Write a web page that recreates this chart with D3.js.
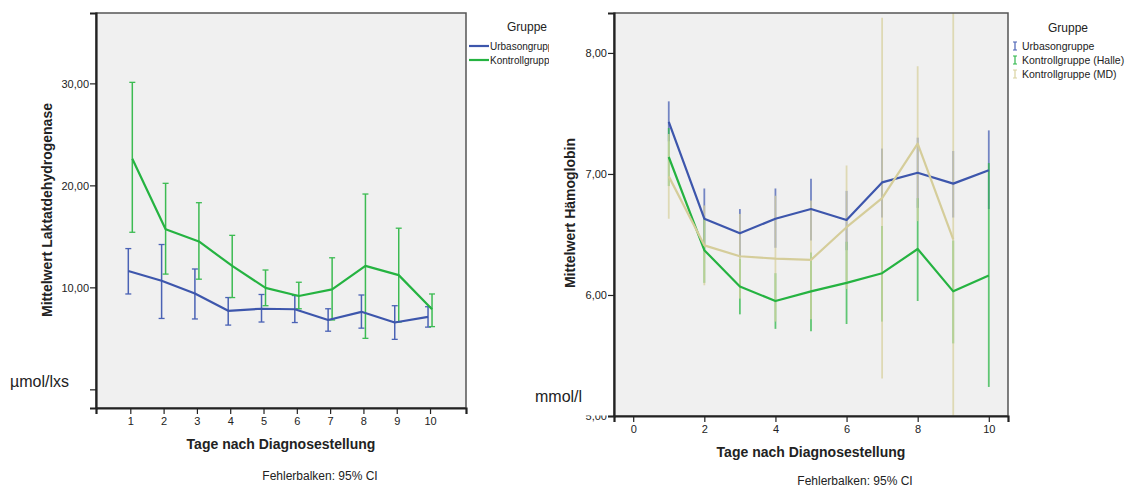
<!DOCTYPE html>
<html>
<head>
<meta charset="utf-8">
<script src="https://cdn.jsdelivr.net/npm/d3@7"></script>
<style>
  body { margin: 0; background: #fff; }
  text { font-family: "Liberation Sans", Arial, sans-serif; fill: #222; }
</style>
</head>
<body>
<svg id="chart" width="1130" height="488"></svg>
<script>
// Tage nach Diagnosestellung
const days = [1, 2, 3, 4, 5, 6, 7, 8, 9, 10]

// Laktatdehydrogenase (µmol/lxs)
const ldhUrbasonMean = [11.6, 10.65, 9.4, 7.7, 7.9, 7.85, 6.8, 7.6, 6.55, 7.1]
const ldhUrbasonLow  = [9.35, 6.95, 6.9, 6.3, 6.6, 6.55, 5.7, 6.0, 4.9, 6.1]
const ldhUrbasonHigh = [13.8, 14.2, 11.8, 9.0, 9.3, 9.2, 7.9, 9.25, 8.2, 8.1]
const ldhKontrollMean = [22.6, 15.7, 14.5, 12.1, 9.95, 9.15, 9.8, 12.1, 11.2, 7.85]
const ldhKontrollLow  = [15.4, 11.3, 10.8, 9.0, 8.2, 7.9, 6.8, 5.0, 6.6, 6.15]
const ldhKontrollHigh = [30.1, 20.2, 18.3, 15.1, 11.7, 10.5, 12.9, 19.15, 15.8, 9.35]

// Hämoglobin (mmol/l)
const hbUrbasonMean = [7.43, 6.63, 6.51, 6.63, 6.71, 6.62, 6.93, 7.01, 6.92, 7.03]
const hbUrbasonLow  = [7.27, 6.38, 6.31, 6.39, 6.45, 6.37, 6.64, 6.72, 6.64, 6.71]
const hbUrbasonHigh = [7.60, 6.88, 6.71, 6.88, 6.96, 6.86, 7.21, 7.30, 7.19, 7.36]
const hbHalleMean = [7.14, 6.37, 6.07, 5.95, 6.03, 6.10, 6.18, 6.38, 6.03, 6.16]
const hbHalleLow  = [6.90, 6.10, 5.84, 5.72, 5.70, 5.76, 5.78, 5.95, 5.60, 5.24]
const hbHalleHigh = [7.38, 6.64, 6.30, 6.18, 6.35, 6.44, 6.57, 6.80, 6.45, 7.09]
const hbMdMean = [6.98, 6.41, 6.32, 6.30, 6.29, 6.56, 6.80, 7.25, 6.46, null]
const hbMdLow  = [6.63, 6.08, 5.97, 5.78, 5.80, 6.05, 5.31, 6.61, 4.30, null]
const hbMdHigh = [7.33, 6.74, 6.67, 6.82, 6.78, 7.07, 8.29, 7.89, 8.60, null]

const ldhTicks = [0, 10, 20, 30]
const hbTicks = [5, 6, 7, 8]
const hbDayTicks = [0, 2, 4, 6, 8, 10]

const svg = d3.select('#chart')
const fmt = v => d3.format('.2f')(v).replace('.', ',')

function series(mean, low, high) {
  return days.map((d, i) => ({ day: d, mean: mean[i], low: low[i], high: high[i] }))
    .filter(p => p.mean !== null)
}

function drawPanel(opts) {
  const g = svg.append('g')
  const x = d3.scaleLinear().domain(opts.xDomain).range([opts.left, opts.right])
  const y = d3.scaleLinear().domain(opts.yDomain).range([opts.bottom, opts.top])

  // plot background
  g.append('rect')
    .attr('x', opts.left).attr('y', opts.top)
    .attr('width', opts.right - opts.left).attr('height', opts.bottom - opts.top)
    .attr('fill', '#f0f0f0')

  const clipId = opts.id + 'clip'
  g.append('clipPath').attr('id', clipId).append('rect')
    .attr('x', opts.left).attr('y', opts.top)
    .attr('width', opts.right - opts.left).attr('height', opts.bottom - opts.top)
  const plot = g.append('g').attr('clip-path', 'url(#' + clipId + ')')

  // error bars
  opts.groups.forEach(grp => {
    const dx = grp.dodge || 0
    const bars = plot.append('g').attr('opacity', grp.barOpacity || 1)
    grp.data.forEach(p => {
      const cx = x(p.day) + dx
      bars.append('line')
        .attr('x1', cx).attr('x2', cx)
        .attr('y1', y(p.low)).attr('y2', y(p.high))
        .attr('stroke', grp.barColor).attr('stroke-width', grp.barWidth)
      if (opts.caps) {
        [p.low, p.high].forEach(v => {
          bars.append('line')
            .attr('x1', cx - opts.caps).attr('x2', cx + opts.caps)
            .attr('y1', y(v)).attr('y2', y(v))
            .attr('stroke', grp.barColor).attr('stroke-width', 1.3)
        })
      }
    })
  })

  // mean lines
  opts.groups.forEach(grp => {
    const dx = grp.dodge || 0
    plot.append('path')
      .datum(grp.data)
      .attr('fill', 'none')
      .attr('stroke', grp.color)
      .attr('stroke-width', 2.2)
      .attr('stroke-linejoin', 'round')
      .attr('d', d3.line().x(p => x(p.day) + dx).y(p => y(p.mean)))
  })

  // frame
  g.append('rect')
    .attr('x', opts.left).attr('y', opts.top)
    .attr('width', opts.right - opts.left).attr('height', opts.bottom - opts.top)
    .attr('fill', 'none').attr('stroke', '#555').attr('stroke-width', 1.5)

  // axes
  const yAxis = g.append('g')
    .attr('transform', 'translate(' + opts.left + ',0)')
    .call(d3.axisLeft(y).tickValues(opts.yTicks).tickSize(6).tickPadding(1)
      .tickFormat(v => opts.yHideLabels.includes(v) ? '' : fmt(v)))
  const xAxis = g.append('g')
    .attr('transform', 'translate(0,' + opts.bottom + ')')
    .call(d3.axisBottom(x).tickValues(opts.xTicks).tickSize(6).tickPadding(3)
      .tickFormat(d3.format('d')))
  ;[yAxis, xAxis].forEach(a => {
    a.select('.domain').attr('stroke', '#222').attr('stroke-width', 2.2)
    a.selectAll('.tick line').attr('stroke', '#222').attr('stroke-width', 1.2)
    a.selectAll('.tick text').style('font-size', '11px').attr('fill', '#222')
      .style('font-family', '"Liberation Sans", Arial, sans-serif')
  })
  yAxis.selectAll('.tick text').attr('dy', '0.35em')
  if (opts.yClipLabel !== undefined) {
    // the lowest label is half hidden in the reference; clip in the tick's own coordinates
    const cid = opts.id + 'lblclip'
    g.append('clipPath').attr('id', cid).append('rect')
      .attr('x', -40).attr('y', -1).attr('width', 40).attr('height', 20)
    yAxis.selectAll('.tick').filter(v => v === opts.yClipLabel)
      .select('text').attr('clip-path', 'url(#' + cid + ')')
  }

  // axis titles
  g.append('text')
    .attr('transform', 'translate(' + opts.yTitleX + ',' + opts.yTitleY + ') rotate(-90)')
    .attr('text-anchor', 'middle')
    .style('font-size', '14px').style('font-weight', 'bold')
    .text(opts.yTitle)
  g.append('text')
    .attr('x', opts.xTitleX).attr('y', opts.xTitleY)
    .attr('text-anchor', 'middle')
    .style('font-size', '14px').style('font-weight', 'bold')
    .text('Tage nach Diagnosestellung')
  g.append('text')
    .attr('x', opts.noteX).attr('y', opts.noteY)
    .attr('text-anchor', 'middle')
    .style('font-size', '12px')
    .text('Fehlerbalken: 95% CI')

  // unit label
  g.append('text')
    .attr('x', opts.unitX).attr('y', opts.unitY)
    .style('font-size', '16px')
    .text(opts.unit)

  return { x, y }
}

// ---- left panel: LDH
drawPanel({
  id: 'ldh',
  left: 96, right: 466, top: 13, bottom: 408,
  xDomain: [-0.03, 11.08], yDomain: [-1.83, 36.9],
  xTicks: days, yTicks: ldhTicks, yHideLabels: [0],
  caps: 3,
  yTitle: 'Mittelwert Laktatdehydrogenase', yTitleX: 52, yTitleY: 210,
  xTitleX: 281, xTitleY: 449,
  noteX: 320, noteY: 480,
  unit: 'µmol/lxs', unitX: 10, unitY: 387,
  groups: [
    { data: series(ldhUrbasonMean, ldhUrbasonLow, ldhUrbasonHigh), color: '#3d56ac',
      barColor: '#4a62b5', barWidth: 1.5, dodge: -2 },
    { data: series(ldhKontrollMean, ldhKontrollLow, ldhKontrollHigh), color: '#25b341',
      barColor: '#3cbb52', barWidth: 1.5, dodge: 2 }
  ]
})

// ---- right panel: Hämoglobin
drawPanel({
  id: 'hb',
  left: 614, right: 1008, top: 13, bottom: 416,
  xDomain: [-0.54, 10.54], yDomain: [5, 8.33],
  xTicks: hbDayTicks, yTicks: hbTicks, yHideLabels: [], yClipLabel: 5,
  caps: 0,
  yTitle: 'Mittelwert Hämoglobin', yTitleX: 575, yTitleY: 213,
  xTitleX: 811, xTitleY: 457,
  noteX: 855, noteY: 485,
  unit: 'mmol/l', unitX: 535, unitY: 402,
  groups: [
    { data: series(hbUrbasonMean, hbUrbasonLow, hbUrbasonHigh), color: '#3d56ac',
      barColor: '#4a62b5', barWidth: 1.8, barOpacity: 0.75 },
    { data: series(hbHalleMean, hbHalleLow, hbHalleHigh), color: '#25b341',
      barColor: '#2fb84a', barWidth: 1.8, barOpacity: 0.75 },
    { data: series(hbMdMean, hbMdLow, hbMdHigh), color: '#d5cd9a',
      barColor: '#d9d2a0', barWidth: 1.8, barOpacity: 0.75 }
  ]
})

// ---- legends
const legL = svg.append('g')
legL.append('text').attr('x', 527).attr('y', 31).attr('text-anchor', 'middle')
  .style('font-size', '12px').text('Gruppe')
legL.append('clipPath').attr('id', 'legclip').append('rect')
  .attr('x', 465).attr('y', 30).attr('width', 84).attr('height', 40)
const legLItems = legL.append('g').attr('clip-path', 'url(#legclip)')
;[['Urbasongruppe', '#3d56ac'], ['Kontrollgruppe', '#25b341']].forEach((it, i) => {
  const yy = 46 + i * 14
  legLItems.append('line').attr('x1', 469).attr('x2', 489).attr('y1', yy).attr('y2', yy)
    .attr('stroke', it[1]).attr('stroke-width', 2.2)
  legLItems.append('text').attr('x', 490).attr('y', yy + 3.5)
    .style('font-size', '10px').text(it[0])
})

const legR = svg.append('g')
legR.append('text').attr('x', 1068).attr('y', 32).attr('text-anchor', 'middle')
  .style('font-size', '12px').text('Gruppe')
;[['Urbasongruppe', '#4a62b5'], ['Kontrollgruppe (Halle)', '#2fb84a'], ['Kontrollgruppe (MD)', '#d9d2a0']]
  .forEach((it, i) => {
    const yy = 46 + i * 14
    legR.append('line').attr('x1', 1015).attr('x2', 1015).attr('y1', yy - 4).attr('y2', yy + 4)
      .attr('stroke', it[1]).attr('stroke-width', 1.2)
    ;[yy - 4, yy + 4].forEach(v => legR.append('line')
      .attr('x1', 1013).attr('x2', 1017).attr('y1', v).attr('y2', v)
      .attr('stroke', it[1]).attr('stroke-width', 1))
    legR.append('text').attr('x', 1022).attr('y', yy + 3.5)
      .style('font-size', '10.5px').text(it[0])
  })
</script>
</body>
</html>
